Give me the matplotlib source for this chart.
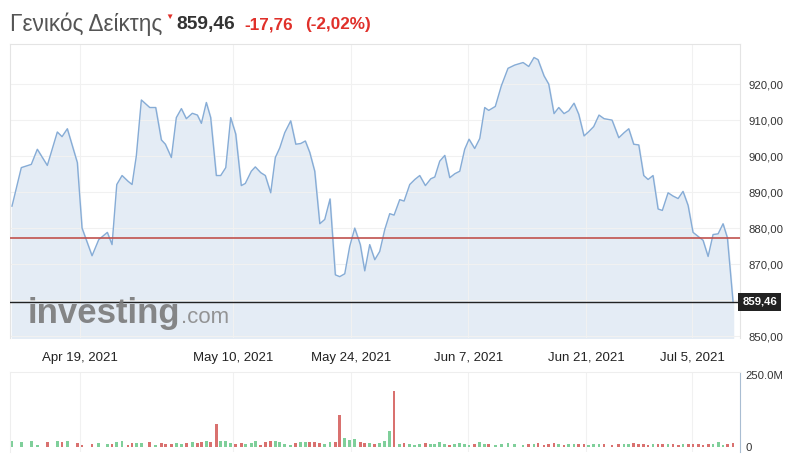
import matplotlib
matplotlib.use("Agg")
import matplotlib.pyplot as plt
from matplotlib.ticker import FuncFormatter

plt.rcParams['font.family'] = ['Liberation Sans', 'DejaVu Sans']

# session position in trading days (Apr 19, 2021 = 0) and index level
t = [-5.78, -4.99, -4.14, -3.63, -2.78, -1.93, -1.53, -1.08, -0.23, 0.17,
     1.02, 1.59, 2.32, 2.72, 3.12, 3.57, 4.08, 4.42, 4.78, 5.21,
     5.92, 6.43, 6.91, 7.25, 7.76, 8.18, 8.61, 9.03, 9.54, 9.97,
     10.31, 10.73, 11.10, 11.58, 11.95, 12.38, 12.80, 13.23, 13.70, 14.04,
     14.55, 14.89, 15.35, 15.74, 16.20, 16.59, 16.97, 17.39, 17.90, 18.33,
     18.75, 19.14, 19.52, 19.94, 20.37, 20.79, 21.24, 21.69, 22.06, 22.49,
     22.91, 23.34, 23.81, 24.19, 24.61, 25.04, 25.46, 25.89, 26.31, 26.68,
     27.16, 27.53, 28.01, 28.44, 28.86, 29.34, 29.80, 30.14, 30.56, 30.99,
     31.41, 31.84, 32.26, 32.68, 33.05, 33.53, 33.96, 34.38, 34.72, 35.28,
     35.79, 36.36, 36.93, 37.64, 38.12, 38.57, 38.91, 39.42, 39.82, 40.27,
     40.67, 41.12, 41.52, 41.97, 42.37, 42.82, 43.22, 43.64, 44.09, 44.52,
     45.20, 45.77, 46.22, 46.62, 47.04, 47.47, 47.89, 48.26, 48.68, 49.11,
     49.47, 49.96, 50.38, 50.81, 51.23, 51.66, 52.08, 52.51, 52.93, 53.36,
     53.78, 54.21, 54.63, 55.00, 55.48]
price = [886.1, 896.8, 897.7, 901.9, 897.4, 906.7, 905.4, 907.6, 898.2, 880.0,
         872.3, 876.8, 878.8, 875.4, 892.1, 894.6, 893.0, 892.1, 900.0, 915.6,
         913.5, 913.5, 904.5, 903.3, 899.6, 910.7, 913.2, 910.4, 911.9, 911.4,
         909.1, 914.9, 910.7, 894.6, 894.6, 896.8, 910.7, 906.1, 891.8, 892.4,
         895.8, 897.0, 895.4, 894.6, 889.8, 899.6, 902.3, 906.5, 909.8, 903.3,
         903.5, 904.2, 901.0, 895.8, 881.2, 882.4, 888.1, 867.0, 866.5, 867.3,
         874.9, 880.0, 875.4, 868.1, 875.4, 871.2, 873.5, 879.6, 884.0, 883.6,
         887.9, 887.5, 892.1, 893.5, 894.6, 891.8, 893.7, 894.2, 898.6, 900.2,
         894.0, 895.1, 895.8, 901.9, 904.7, 902.1, 904.9, 913.5, 912.7, 913.8,
         919.5, 924.4, 925.3, 926.0, 924.9, 927.4, 926.8, 922.3, 920.0, 911.8,
         913.5, 911.8, 912.6, 914.7, 911.6, 905.6, 906.8, 908.2, 911.4, 910.4,
         910.0, 905.1, 906.5, 907.6, 903.3, 903.1, 894.6, 893.5, 894.6, 885.3,
         884.9, 889.8, 888.9, 888.2, 890.2, 886.3, 878.8, 877.7, 876.6, 872.1,
         878.2, 878.4, 881.2, 877.3, 859.46]
# volume in millions
volume = [20, 17, 22, 8, 17, 20, 18, 20, 15, 8,
          10, 14, 10, 12, 16, 20, 8, 14, 15, 14,
          18, 8, 14, 10, 9, 15, 10, 15, 16, 14,
          18, 22, 18, 80, 20, 22, 15, 10, 15, 12,
          15, 20, 8, 16, 20, 22, 18, 10, 6, 14,
          18, 16, 18, 16, 14, 10, 16, 18, 110, 30,
          25, 28, 16, 14, 14, 12, 15, 20, 55, 193,
          12, 14, 10, 8, 12, 14, 9, 12, 16, 10,
          8, 12, 14, 10, 8, 12, 16, 10, 12, 8,
          10, 14, 9, 8, 10, 12, 14, 8, 10, 14,
          12, 8, 10, 9, 12, 10, 8, 12, 9, 10,
          8, 10, 12, 9, 14, 10, 12, 8, 10, 12,
          9, 10, 12, 8, 10, 9, 12, 10, 8, 9,
          10, 16, 8, 10, 14]

prev_close = 877.22
last = 859.46
tick_pos = [0, 13, 23, 33, 43, 52]
tick_lbl = ["Apr 19, 2021", "May 10, 2021", "May 24, 2021", "Jun 7, 2021", "Jun 21, 2021", "Jul 5, 2021"]
price_ticks = [850, 860, 870, 880, 890, 900, 910, 920]

W, H = 800, 461
fig = plt.figure(figsize=(W / 100, H / 100), dpi=100)


def box(l, t_, r, b):
    return [l / W, 1 - b / H, (r - l) / W, (b - t_) / H]


xlim = (-5.95, 56.07)

ax = fig.add_axes(box(10, 44, 740, 338))
ax.plot(t, price, color="#86acd6", lw=1.0, zorder=3)
ax.fill_between(t, price, 849.45, color="#e4ecf5", zorder=1)
ax.axhline(prev_close, color="#c0524e", lw=1.2, zorder=4)
ax.axhline(last, color="#222222", lw=1.0, zorder=4)
ax.set_xlim(*xlim)
ax.set_ylim(849.45, 931.15)
ax.set_yticks(price_ticks)
ax.yaxis.set_major_formatter(FuncFormatter(
    lambda v, p: "" if abs(v - 860) < 0.1 else f"{v:.2f}".replace(".", ",")))
ax.yaxis.tick_right()
ax.set_xticks(tick_pos)
ax.set_xticklabels(tick_lbl)
ax.tick_params(axis="y", length=0, pad=6, labelsize=8.2, labelcolor="#333333")
ax.tick_params(axis="x", length=0, pad=10, labelsize=9.5, labelcolor="#222222")
ax.grid(True, color="#f1f1f1", lw=0.8, zorder=0)
for s in ax.spines.values():
    s.set_color("#e4e4e4")
ax.spines["bottom"].set_visible(False)

ax.text(1.003, (last - 849.45) / (931.15 - 849.45), "859,46", transform=ax.transAxes,
        ha="left", va="center", fontsize=8.2, color="white", fontweight="bold",
        bbox=dict(boxstyle="square,pad=0.35", fc="#222222", ec="none"), clip_on=False)

# watermark
fig.text(28 / W, 1 - 323 / H, "investing", fontsize=25, fontweight="bold",
         color="#7a7a7a", alpha=0.9, va="baseline", ha="left", zorder=2)
fig.text(181 / W, 1 - 323 / H, ".com", fontsize=16, color="#8a8a8a",
         alpha=0.9, va="baseline", ha="left", zorder=2)

# volume panel
vx = fig.add_axes(box(10, 372, 740, 452))
cols = ["#7fcf9a"]
for i in range(1, len(price)):
    cols.append("#7fcf9a" if price[i] >= price[i - 1] else "#d9716f")
vx.bar(t, volume, width=0.24, color=cols, zorder=2)
vx.set_xlim(*xlim)
vx.set_ylim(-17.4, 260.4)
vx.set_yticks([0, 250])
vx.set_yticklabels(["0", "250.0M"])
vx.yaxis.tick_right()
vx.set_xticks(tick_pos)
vx.set_xticklabels([])
vx.tick_params(axis="y", length=0, pad=4, labelsize=8.2, labelcolor="#333333")
vx.tick_params(axis="x", length=0)
vx.grid(True, axis="x", color="#f1f1f1", lw=0.8, zorder=0)
for s in vx.spines.values():
    s.set_color("#eeeeee")
vx.spines["right"].set_color("#a9bdd2")
vx.spines["bottom"].set_visible(False)

# header
fig.text(10 / W, 1 - 30.5 / H, "Γενικός Δείκτης", fontsize=16.3, color="#555555", va="baseline")
fig.text(169 / W, 1 - 17 / H, "▼", fontsize=6, color="#e0302a", ha="center", va="center")
fig.text(176 / W, 1 - 29.5 / H, "859,46", fontsize=13.8, fontweight="bold", color="#333333", va="baseline")
fig.text(244 / W, 1 - 29.5 / H, "-17,76", fontsize=12.3, fontweight="bold", color="#e0302a", va="baseline")
fig.text(305 / W, 1 - 29.5 / H, "(-2,02%)", fontsize=12.3, fontweight="bold", color="#e0302a", va="baseline")

fig.savefig("out.png", dpi=100)
